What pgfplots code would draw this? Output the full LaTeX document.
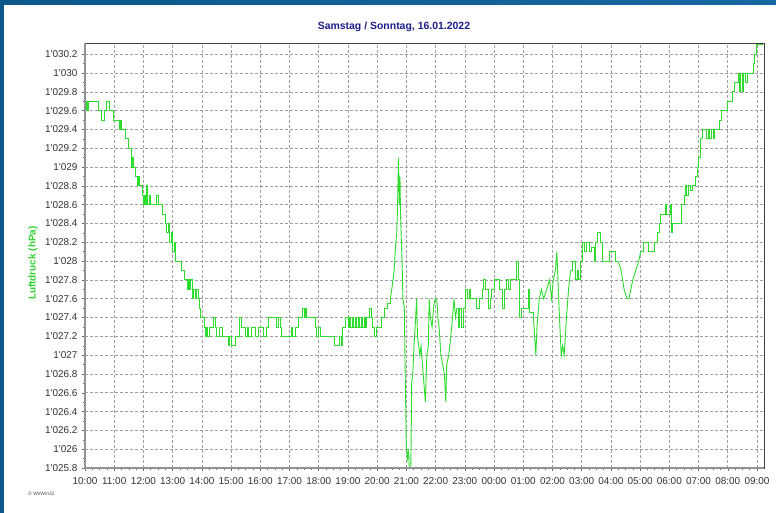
\documentclass[border=0pt]{standalone}
\usepackage{pgfplots}
\pgfplotsset{compat=1.18}
\usepackage{fontspec}
\setmainfont{Liberation Sans}
\definecolor{frameA}{RGB}{12,88,138}
\definecolor{frameB}{RGB}{22,104,164}
\definecolor{linegreen}{RGB}{45,220,45}
\definecolor{labgreen}{RGB}{50,210,50}
\definecolor{titleblue}{RGB}{30,30,140}
\newcommand\q{\textquotesingle}
\begin{document}
\begin{tikzpicture}
\useasboundingbox (0,0) rectangle (776bp,513bp);
\fill[white] (0,0) rectangle (776bp,513bp);
\shade[left color=frameA, right color=frameB] (0,508bp) rectangle (776bp,513bp);
\fill[frameA] (0,0) rectangle (3.5bp,513bp);
\begin{axis}[
  at={(85bp,45bp)}, anchor=south west,
  scale only axis, width=679bp, height=425bp,
  xmin=0, xmax=23.24, ymin=1025.8, ymax=1030.32,
  xtick={0,...,23},
  xticklabels={10:00,11:00,12:00,13:00,14:00,15:00,16:00,17:00,18:00,19:00,20:00,21:00,22:00,23:00,00:00,01:00,02:00,03:00,04:00,05:00,06:00,07:00,08:00,09:00},
  ytick={1025.8,1026,1026.2,1026.4,1026.6,1026.8,1027,1027.2,1027.4,1027.6,1027.8,1028,1028.2,1028.4,1028.6,1028.8,1029,1029.2,1029.4,1029.6,1029.8,1030,1030.2},
  yticklabels={1\q025.8,1\q026,1\q026.2,1\q026.4,1\q026.6,1\q026.8,1\q027,1\q027.2,1\q027.4,1\q027.6,1\q027.8,1\q028,1\q028.2,1\q028.4,1\q028.6,1\q028.8,1\q029,1\q029.2,1\q029.4,1\q029.6,1\q029.8,1\q030,1\q030.2},
  minor x tick num=3, minor y tick num=1,
  tick align=outside, major tick length=3bp, minor tick length=2bp,
  tick style={gray!80!black, line width=0.5bp},
  xtick pos=bottom, ytick pos=left,
  grid=major,
  major grid style={gray!75, line width=0.6bp, dash pattern=on 3bp off 2bp},
  axis line style={black!75, line width=0.8bp},
  tick label style={font=\fontsize{10}{12}\selectfont, text=black!80},
  xticklabel style={yshift=-3bp},
  yticklabel style={xshift=-1bp},
  title={Samstag / Sonntag, 16.01.2022},
  title style={at={(axis description cs:0.455,1.0235)}, anchor=center, font=\fontsize{10.5}{12}\selectfont\bfseries, text=titleblue},
  ylabel={Luftdruck (hPa)},
  every axis y label/.style={at={(axis description cs:-0.0766,0.482)}, rotate=90, anchor=center, font=\fontsize{10}{12}\selectfont\bfseries, text=labgreen},
  after end axis/.code={
    \draw[gray!85, line width=2bp] (rel axis cs:0,1) -- (rel axis cs:0,0) -- (rel axis cs:1,0);
  },
  every axis plot/.append style={linegreen, line width=0.9bp, no marks},
]
% stepped stretch 10:00-20:27
\addplot[const plot] table {
x y
0.00 1029.7
0.03 1029.6
0.06 1029.7
0.10 1029.6
0.13 1029.7
0.43 1029.7
0.45 1029.6
0.55 1029.6
0.57 1029.5
0.65 1029.5
0.67 1029.6
0.72 1029.6
0.74 1029.7
0.82 1029.7
0.84 1029.6
0.95 1029.6
0.97 1029.5
1.15 1029.5
1.17 1029.4
1.22 1029.5
1.25 1029.4
1.35 1029.4
1.37 1029.3
1.48 1029.3
1.50 1029.2
1.58 1029.2
1.60 1029.0
1.63 1029.1
1.67 1029.0
1.72 1028.9
1.78 1028.9
1.80 1028.8
1.84 1028.9
1.88 1028.8
1.95 1028.7
2.00 1028.6
2.04 1028.7
2.08 1028.6
2.12 1028.8
2.15 1028.6
2.20 1028.7
2.25 1028.6
2.40 1028.6
2.45 1028.7
2.50 1028.6
2.60 1028.6
2.65 1028.5
2.72 1028.5
2.76 1028.4
2.80 1028.3
2.84 1028.4
2.88 1028.2
2.95 1028.3
3.00 1028.1
3.05 1028.2
3.10 1028.0
3.20 1028.0
3.30 1027.9
3.40 1027.8
3.45 1027.8
3.50 1027.7
3.53 1027.8
3.57 1027.7
3.62 1027.8
3.67 1027.6
3.72 1027.7
3.77 1027.6
3.82 1027.7
3.88 1027.6
3.92 1027.5
3.95 1027.4
4.05 1027.4
4.10 1027.3
4.13 1027.2
4.17 1027.3
4.20 1027.2
4.25 1027.3
4.35 1027.3
4.40 1027.4
4.45 1027.3
4.50 1027.2
4.60 1027.3
4.70 1027.2
4.85 1027.2
4.90 1027.1
4.95 1027.2
5.00 1027.1
5.10 1027.1
5.15 1027.2
5.25 1027.2
5.30 1027.4
5.35 1027.3
5.45 1027.3
5.50 1027.2
5.55 1027.3
5.60 1027.2
5.70 1027.3
5.80 1027.3
5.85 1027.2
5.95 1027.3
6.00 1027.3
6.10 1027.2
6.20 1027.3
6.28 1027.4
6.45 1027.4
6.55 1027.3
6.63 1027.4
6.68 1027.3
6.74 1027.2
6.85 1027.2
6.97 1027.2
7.05 1027.3
7.10 1027.2
7.20 1027.3
7.31 1027.4
7.40 1027.4
7.45 1027.5
7.50 1027.4
7.53 1027.5
7.58 1027.4
7.70 1027.4
7.80 1027.4
7.90 1027.3
7.93 1027.2
8.00 1027.3
8.05 1027.2
8.20 1027.2
8.40 1027.2
8.55 1027.1
8.65 1027.1
8.70 1027.2
8.77 1027.1
8.80 1027.3
8.90 1027.4
9.00 1027.3
9.05 1027.4
9.10 1027.3
9.15 1027.4
9.20 1027.3
9.25 1027.4
9.30 1027.3
9.35 1027.4
9.40 1027.3
9.45 1027.4
9.50 1027.3
9.55 1027.4
9.60 1027.3
9.65 1027.4
9.72 1027.4
9.75 1027.5
9.80 1027.4
9.85 1027.3
9.92 1027.2
9.97 1027.3
10.05 1027.3
10.15 1027.4
10.25 1027.5
10.35 1027.55
10.45 1027.6
};
% spike and disturbed stretch 20:27-22:44 (straight segments)
\addplot[sharp plot] table {
x y
10.45 1027.6
10.50 1027.7
10.54 1027.8
10.58 1027.9
10.60 1028.0
10.62 1028.1
10.64 1028.2
10.67 1028.3
10.69 1028.5
10.71 1028.8
10.73 1029.1
10.76 1028.6
10.78 1028.9
10.80 1028.5
10.83 1028.2
10.86 1027.9
10.88 1027.6
10.93 1027.5
10.95 1027.0
10.97 1026.6
11.00 1026.0
11.04 1025.9
11.07 1026.0
11.10 1025.8
11.15 1025.8
11.17 1026.3
11.18 1026.7
11.22 1026.8
11.26 1027.1
11.30 1027.3
11.35 1027.6
11.38 1027.2
11.42 1027.1
11.46 1027.0
11.50 1027.1
11.55 1026.9
11.60 1026.7
11.65 1026.5
11.70 1027.0
11.75 1027.1
11.78 1027.6
11.82 1027.4
11.88 1027.3
11.93 1027.5
11.98 1027.6
12.04 1027.6
12.08 1027.4
12.12 1027.3
12.18 1027.0
12.24 1026.9
12.30 1026.8
12.35 1026.5
12.38 1026.9
12.45 1027.0
12.52 1027.2
12.58 1027.4
12.63 1027.6
12.68 1027.4
12.73 1027.5
};
% stepped stretch 22:44-01:21
\addplot[const plot] table {
x y
12.73 1027.5
12.78 1027.3
12.83 1027.5
12.88 1027.3
12.95 1027.5
13.03 1027.7
13.10 1027.6
13.15 1027.7
13.20 1027.6
13.30 1027.6
13.40 1027.5
13.50 1027.6
13.60 1027.7
13.65 1027.8
13.72 1027.7
13.80 1027.5
13.87 1027.6
13.92 1027.7
14.00 1027.8
14.10 1027.8
14.20 1027.7
14.28 1027.5
14.35 1027.7
14.42 1027.8
14.50 1027.7
14.55 1027.8
14.70 1027.8
14.78 1028.0
14.82 1027.8
14.87 1027.4
14.95 1027.5
15.00 1027.5
15.10 1027.5
15.17 1027.7
15.22 1027.45
15.35 1027.4
};
% dips 01:21-02:37
\addplot[sharp plot] table {
x y
15.35 1027.4
15.43 1027.0
15.47 1027.3
15.55 1027.6
15.62 1027.7
15.70 1027.6
15.80 1027.7
15.90 1027.8
15.97 1027.6
16.03 1027.8
16.10 1027.9
16.15 1028.1
16.20 1027.7
16.24 1027.4
16.30 1027.0
16.35 1027.1
16.40 1027.0
16.44 1027.2
16.48 1027.4
16.55 1027.7
16.62 1027.9
};
\addplot[const plot] table {
x y
16.62 1027.9
16.70 1028.0
16.78 1027.8
16.84 1027.9
16.90 1027.8
16.96 1028.0
17.03 1028.2
17.10 1028.1
17.15 1028.2
17.25 1028.1
17.35 1028.15
17.42 1028.0
17.47 1028.2
17.53 1028.3
17.58 1028.3
17.63 1028.2
17.70 1028.0
17.90 1028.0
17.95 1028.1
18.05 1028.1
18.15 1028.0
18.25 1028.0
};
% smooth dip around 04:30
\addplot[sharp plot] table {
x y
18.25 1028.0
18.35 1027.9
18.45 1027.7
18.55 1027.6
18.62 1027.6
18.68 1027.7
18.75 1027.8
18.85 1027.9
18.95 1028.0
19.02 1028.1
};
\addplot[const plot] table {
x y
19.02 1028.1
19.10 1028.2
19.25 1028.2
19.30 1028.1
19.45 1028.1
19.50 1028.2
19.58 1028.3
19.65 1028.4
19.70 1028.5
19.80 1028.5
19.85 1028.6
19.90 1028.5
20.00 1028.5
20.05 1028.6
20.08 1028.3
20.12 1028.4
20.35 1028.4
20.42 1028.6
20.50 1028.7
20.55 1028.8
20.60 1028.7
20.65 1028.8
20.72 1028.75
20.80 1028.8
20.88 1028.9
20.95 1029.0
21.00 1029.1
21.05 1029.3
21.12 1029.4
21.20 1029.4
21.28 1029.3
21.33 1029.4
21.38 1029.3
21.45 1029.4
21.50 1029.3
21.55 1029.4
21.65 1029.4
21.72 1029.5
21.78 1029.6
21.95 1029.6
21.98 1029.7
22.10 1029.7
22.15 1029.8
22.22 1029.9
22.30 1029.9
22.35 1030.0
22.40 1029.8
22.45 1030.0
22.50 1029.8
22.55 1030.0
22.60 1029.9
22.67 1030.0
22.80 1030.0
22.87 1030.1
22.92 1030.2
22.97 1030.3
23.20 1030.3
};
\end{axis}
\node[anchor=west, font=\fontsize{5}{6}\selectfont, text=black!70, inner sep=0pt] at (28bp,19bp) {\textcopyright\ WsWin32};
\end{tikzpicture}
\end{document}
